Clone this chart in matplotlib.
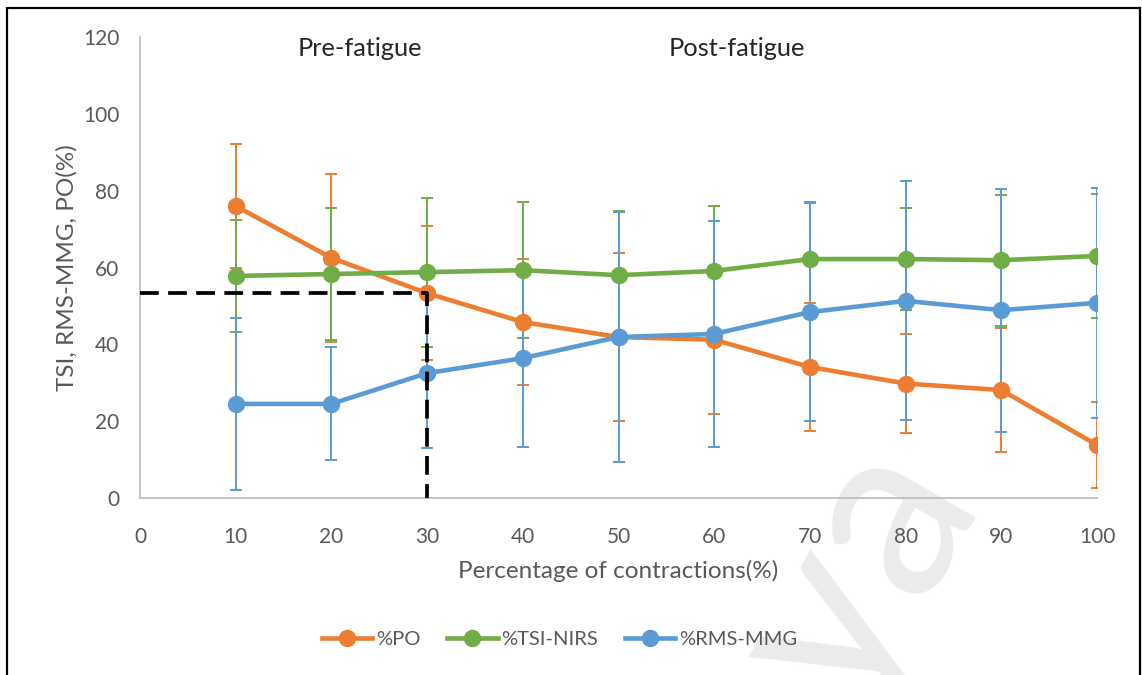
import matplotlib.pyplot as plt
from matplotlib.patches import Rectangle
from matplotlib.lines import Line2D

# contraction percentage
x = [10, 20, 30, 40, 50, 60, 70, 80, 90, 100]

# mean values (%) and standard deviations
po = [76.0, 62.5, 53.3, 45.8, 41.9, 41.2, 34.1, 29.8, 28.1, 13.8]
po_sd = [16.2, 21.8, 17.5, 16.4, 21.9, 19.3, 16.7, 12.9, 16.1, 11.2]

tsi = [57.8, 58.3, 58.8, 59.3, 58.0, 59.1, 62.2, 62.2, 61.9, 63.0]
tsi_sd = [14.6, 17.3, 19.4, 17.7, 16.6, 16.9, 14.9, 13.3, 17.0, 16.2]

rms = [24.5, 24.5, 32.5, 36.4, 41.9, 42.7, 48.4, 51.3, 48.9, 50.8]
rms_sd = [22.3, 14.7, 19.5, 23.1, 32.6, 29.4, 28.4, 31.1, 31.6, 30.0]

series = [
    ("%PO", po, po_sd, "#ED7D31"),
    ("%TSI-NIRS", tsi, tsi_sd, "#70AD47"),
    ("%RMS-MMG", rms, rms_sd, "#5B9BD5"),
]

fatigue_idx = 2  # 30% of contractions

plt.rcParams['font.family'] = ['Lato', 'DejaVu Sans']
text_col = "#595959"

fig = plt.figure(figsize=(11.42, 6.75), dpi=100)
ax = fig.add_axes([0.1226, 0.2622, 0.838, 0.683])

# faint watermark behind the chart
ax.text(0.852, 0.285, "Malaya", fontsize=180, color="#ebebeb", rotation=60,
        rotation_mode="anchor", ha="right", va="baseline", zorder=0,
        transform=fig.transFigure, clip_on=False)

handles = []
for label, mean, sd, col in series:
    ax.errorbar(x, mean, yerr=sd, fmt="-o", color=col, lw=3.3, ms=11.5,
                elinewidth=1.4, capsize=4.5, capthick=1.4,
                solid_capstyle="round", zorder=3)
    handles.append(Line2D([], [], color=col, lw=3.3, marker="o", ms=11.5, label=label))

# pre/post fatigue boundary
ax.plot([0, x[fatigue_idx], x[fatigue_idx]],
        [po[fatigue_idx], po[fatigue_idx], 0],
        color="black", lw=2.7, dashes=(5, 2.5), zorder=5, clip_on=False)

ax.text(23, 117, "Pre-fatigue", ha="center", va="center", fontsize=18.3, color="#262626")
ax.text(62.4, 117, "Post-fatigue", ha="center", va="center", fontsize=18.3, color="#262626")

ax.set_xlim(0, 100)
ax.set_ylim(0, 120)
ax.set_xticks(range(0, 101, 10))
ax.set_yticks(range(0, 121, 20))
ax.tick_params(length=0, labelsize=15, colors=text_col, pad=21)
ax.tick_params(axis="y", pad=15)
ax.set_xlabel("Percentage of contractions(%)", fontsize=17.5, color=text_col, labelpad=9)
ax.set_ylabel("TSI, RMS-MMG, PO(%)", fontsize=17.5, color=text_col, labelpad=4)
ax.patch.set_alpha(0)
for s in ["top", "right"]:
    ax.spines[s].set_visible(False)
for s in ["left", "bottom"]:
    ax.spines[s].set_color("#BFBFBF")
    ax.spines[s].set_linewidth(1.3)

leg = fig.legend(handles=handles, loc="center", bbox_to_anchor=(0.49, 0.052), ncol=3,
                 frameon=False, fontsize=14.5, handlelength=2.5, handletextpad=0.2,
                 columnspacing=1.3)
for t in leg.get_texts():
    t.set_color(text_col)

# outer frame around the chart
fig.patches.append(Rectangle((0.0065, -0.05), 0.9918, 1.038, transform=fig.transFigure,
                             fill=False, edgecolor="black", lw=1.6))

fig.savefig("out.png", dpi=100)
